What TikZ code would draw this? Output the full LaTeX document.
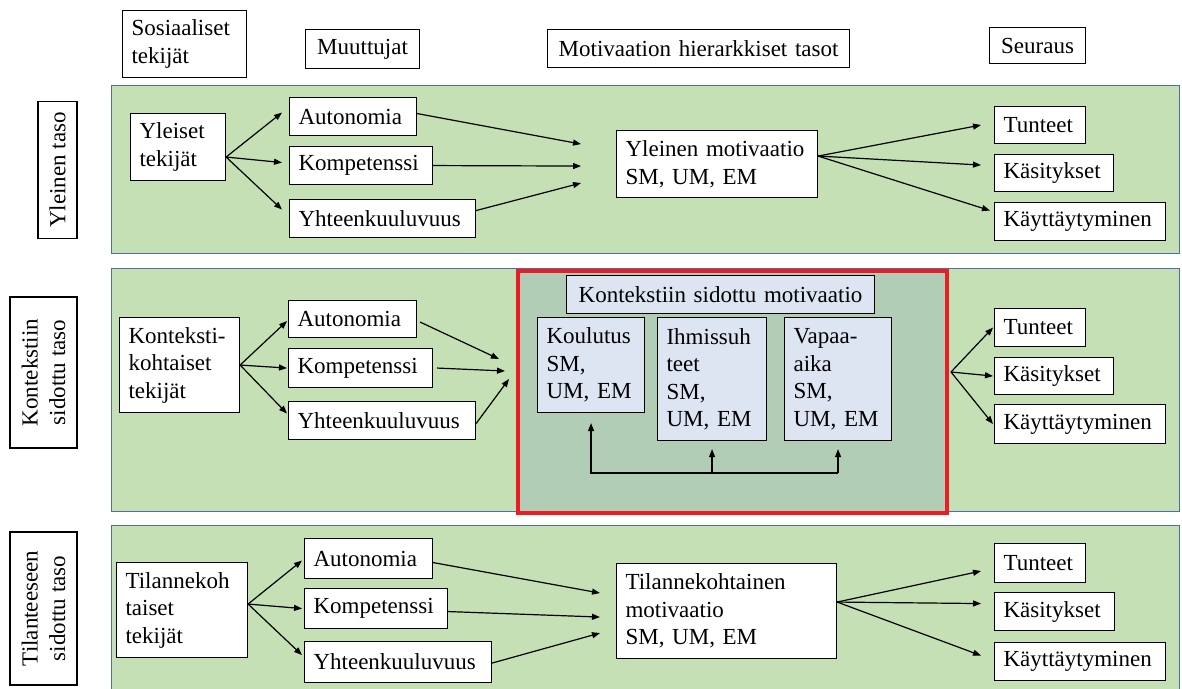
\documentclass[tikz,border=0pt]{standalone}
\usepackage{fontspec}
\setmainfont{Liberation Serif}
\usetikzlibrary{arrows.meta,calc}
\definecolor{panelgreen}{RGB}{197,224,180}
\definecolor{panelline}{RGB}{78,110,165}
\definecolor{ctxfill}{RGB}{178,205,181}
\definecolor{ctxred}{RGB}{236,28,36}
\definecolor{lav}{RGB}{222,229,242}

% box with its top-left corner at (x1,y1) and bottom-right corner at (x2,y2)
\newcommand{\fbnode}[7][]{%
  \pgfmathsetmacro\fbw{#5-#3}%
  \pgfmathsetmacro\fbh{#6-#4}%
  \pgfmathsetmacro\fbt{#5-#3-18}%
  \node[box,minimum width=\fbw pt,minimum height=\fbh pt,text width=\fbt pt,#1] (#2) at (#3,#4) {#7};}

\tikzset{
  txt/.style={font=\fontsize{23}{27.5}\selectfont},
  box/.style={txt,draw=black,fill=white,line width=1.1pt,anchor=north west,
    inner xsep=9pt,inner ysep=0pt,align=left},
  lab/.style={txt,draw=black,fill=white,line width=1.1pt,rotate=90,
    align=center,inner sep=0pt},
  panel/.style={draw=panelline,fill=panelgreen,line width=1pt},
  ctxbox/.style={draw=ctxred,fill=ctxfill,line width=4pt,anchor=north west,inner sep=0pt},
  arr/.style={-{Triangle[length=8pt,width=6pt]},line width=1.2pt},
}

\begin{document}
\begin{tikzpicture}[x=1pt,y=-1pt]
\useasboundingbox (0,0) rectangle (1182,688);
\fill[white] (0,0) rectangle (1182,688);

% column headers
\fbnode{hsos}{122}{10}{246}{77}{Sosiaaliset\\tekijät}
\fbnode[align=center]{hmuu}{305}{29}{419}{68}{Muuttujat}
\fbnode[align=center]{hmot}{547}{29}{849}{67}{Motivaation hierarkkiset tasot}
\fbnode[align=center]{hseu}{989}{27}{1085}{63}{Seuraus}

% level labels
\node[lab,minimum width=137pt,minimum height=39pt] (l1) at (57.5,170) {Yleinen taso};
\node[lab,minimum width=151pt,minimum height=67pt] (l2) at (43.5,372.5) {Kontekstiin\\sidottu taso};
\node[lab,minimum width=153pt,minimum height=67pt] (l3) at (43.5,608.5) {Tilanteeseen\\sidottu taso};

% level panels
\draw[panel] (111,85) rectangle (1179,253);
\draw[panel] (111,268) rectangle (1179,511);
\draw[panel] (111,525) rectangle (1179,700);

% ---------- general level ----------
\fbnode{yt}{130}{113}{225}{180}{Yleiset\\tekijät}
\fbnode{au1}{289}{97}{416}{135}{Autonomia}
\fbnode{ko1}{289}{146}{432}{184}{Kompetenssi}
\fbnode{yh1}{289}{199}{475}{237}{Yhteenkuuluvuus}
\fbnode{ym}{616}{130}{817}{197}{Yleinen motivaatio\\SM, UM, EM}
\fbnode{tu1}{994}{106}{1085}{143}{Tunteet}
\fbnode{ka1}{994}{154}{1113}{191}{Käsitykset}
\fbnode{ky1}{994}{202}{1165}{240}{Käyttäytyminen}

\draw[arr] ([yshift=-10pt]yt.east) -- ([xshift=-7pt,yshift=4pt]au1.west);
\draw[arr] ([yshift=-10pt]yt.east) -- ([xshift=-7pt,yshift=3pt]ko1.west);
\draw[arr] ([yshift=-10pt]yt.east) -- ([xshift=-7pt,yshift=9pt]yh1.west);
\draw[arr] ([yshift=3pt]au1.east) -- ([xshift=-35pt,yshift=20pt]ym.west);
\draw[arr] (ko1.east) -- ([xshift=-35pt,yshift=-2pt]ym.west);
\draw[arr] ([yshift=8pt]yh1.east) -- ([xshift=-35pt,yshift=-19pt]ym.west);
\draw[arr] ([yshift=8pt]ym.east) -- ([xshift=-13pt]tu1.west);
\draw[arr] ([yshift=8pt]ym.east) -- ([xshift=-13pt,yshift=8pt]ka1.west);
\draw[arr] ([yshift=8pt]ym.east) -- ([xshift=-4pt,yshift=11pt]ky1.west);

% ---------- contextual level ----------
\fbnode{kt}{119}{317}{239}{412}{Konteksti-\\kohtaiset\\tekijät}
\fbnode{au2}{288}{300}{416}{337}{Autonomia}
\fbnode{ko2}{288}{348}{432}{387}{Kompetenssi}
\fbnode{yh2}{288}{401}{475}{439}{Yhteenkuuluvuus}

\node[ctxbox,minimum width=429pt,minimum height=242pt] (ctx) at (516,269) {};
\fbnode[fill=lav,align=center]{kmot}{566}{275}{874}{313}{Kontekstiin sidottu motivaatio}
\fbnode[fill=lav]{kou}{537}{317}{644}{412}{Koulutus\\SM,\\UM, EM}
\fbnode[fill=lav]{ihm}{657}{317}{766}{440}{Ihmissuh\\teet\\SM,\\UM, EM}
\fbnode[fill=lav]{vap}{784}{317}{891}{440}{Vapaa-\\aika\\SM,\\UM, EM}

\fbnode{tu2}{994}{308}{1085}{346}{Tunteet}
\fbnode{ka2}{994}{357}{1113}{394}{Käsitykset}
\fbnode{ky2}{994}{404}{1165}{443}{Käyttäytyminen}

\draw[arr] (kt.east) -- ([xshift=-1pt,yshift=-2pt]au2.west);
\draw[arr] (kt.east) -- ([xshift=-1pt]ko2.west);
\draw[arr] (kt.east) -- ([xshift=-1pt,yshift=7pt]yh2.west);
\draw[arr] ([xshift=3pt,yshift=-3pt]au2.east) -- ([xshift=-17pt,yshift=33pt]ctx.west);
\draw[arr] ([xshift=4pt]ko2.east) -- ([xshift=-11pt,yshift=21pt]ctx.west);
\draw[arr] ([yshift=-3pt]yh2.east) -- ([xshift=-7pt,yshift=13pt]ctx.west);
\draw[arr] ([xshift=2pt,yshift=20pt]ctx.east) -- ([xshift=-1pt]tu2.west);
\draw[arr] ([xshift=2pt,yshift=20pt]ctx.east) -- ([xshift=-1pt]ka2.west);
\draw[arr] ([xshift=2pt,yshift=20pt]ctx.east) -- ([xshift=-1pt]ky2.west);

% links between the context domains
\coordinate (base) at (711,473);
\draw[arr] (ihm.south |- base) -- ([yshift=-8pt]ihm.south);
\draw[arr] (vap.south |- base) -- ([yshift=-8pt]vap.south);
\draw[arr] (vap.south |- base) -| ([yshift=-10pt]kou.south);

% ---------- situational level ----------
\fbnode{tk}{116}{562}{247}{657}{Tilannekoh\\taiset\\tekijät}
\fbnode{au3}{304}{538}{432}{578}{Autonomia}
\fbnode{ko3}{304}{588}{447}{628}{Kompetenssi}
\fbnode{yh3}{304}{641}{491}{682}{Yhteenkuuluvuus}
\fbnode{tm}{616}{563}{836}{658}{Tilannekohtainen\\motivaatio\\SM, UM, EM}
\fbnode{tu3}{994}{543}{1085}{582}{Tunteet}
\fbnode{ka3}{994}{592}{1114}{630}{Käsitykset}
\fbnode{ky3}{994}{642}{1165}{680}{Käyttäytyminen}

\draw[arr] ([yshift=6pt]tk.east) -- ([xshift=-2pt,yshift=-2pt]au3.west);
\draw[arr] ([yshift=6pt]tk.east) -- ([xshift=-2pt]ko3.west);
\draw[arr] ([yshift=6pt]tk.east) -- ([xshift=-2pt,yshift=7pt]yh3.west);
\draw[arr] ([yshift=-4pt]au3.east) -- ([xshift=-16pt,yshift=18pt]tm.west);
\draw[arr] ([yshift=-3pt]ko3.east) -- ([xshift=-16pt,yshift=-6pt]tm.west);
\draw[arr] ([yshift=-1pt]yh3.east) -- ([xshift=-16pt,yshift=-22pt]tm.west);
\draw[arr] ([yshift=9pt]tm.east) -- ([xshift=-13pt,yshift=-8pt]tu3.west);
\draw[arr] ([yshift=9pt]tm.east) -- ([xshift=-13pt,yshift=8pt]ka3.west);
\draw[arr] ([yshift=9pt]tm.east) -- ([xshift=-13pt,yshift=6pt]ky3.west);
\end{tikzpicture}
\end{document}
